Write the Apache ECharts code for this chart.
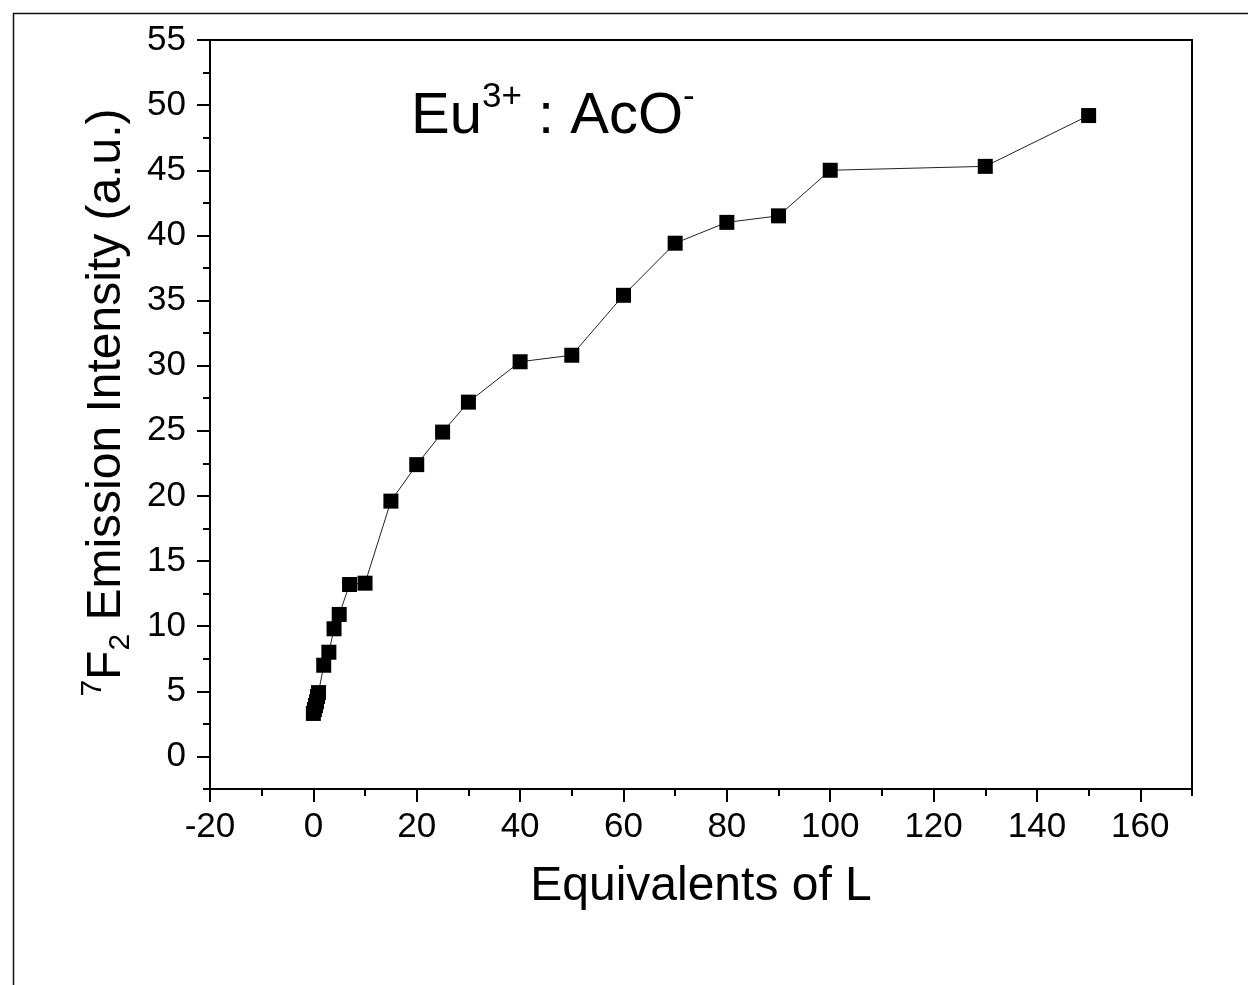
<!DOCTYPE html>
<html>
<head>
<meta charset="utf-8">
<script src="https://cdn.jsdelivr.net/npm/echarts@6/dist/echarts.min.js"></script>
<style>html,body{margin:0;padding:0;background:#fff;}#c{width:1248px;height:985px;}</style>
</head>
<body>
<div id="c"></div>
<script>
// Data
const equivalents = [0, 0.2, 0.4, 0.6, 0.8, 1, 2, 3, 4, 5, 7, 10, 15, 20, 25, 30, 40, 50, 60, 70, 80, 90, 100, 130, 150];
const intensity   = [3.3, 3.6, 3.9, 4.2, 4.6, 4.9, 7.0, 8.0, 9.8, 10.9, 13.2, 13.3, 19.6, 22.4, 24.9, 27.2, 30.3, 30.8, 35.4, 39.4, 41.0, 41.5, 45.0, 45.3, 49.2];
const xMajorTicks = [-20, 0, 20, 40, 60, 80, 100, 120, 140, 160];
const xMinorTicks = [-10, 10, 30, 50, 70, 90, 110, 130, 150, 170];
const yMajorTicks = [0, 5, 10, 15, 20, 25, 30, 35, 40, 45, 50, 55];
const yMinorTicks = [-2.5, 2.5, 7.5, 12.5, 17.5, 22.5, 27.5, 32.5, 37.5, 42.5, 47.5, 52.5];

const FONT = '"Liberation Sans", Arial, sans-serif';
const chart = echarts.init(document.getElementById('c'), null, {renderer: 'canvas'});
const points = equivalents.map((x, i) => [x, intensity[i]]);

const xRange = {min: -20, max: 170};
const yRange = {min: -2.5, max: 55};

chart.setOption({
  animation: false,
  backgroundColor: '#fff',
  grid: {left: 210, right: 56, top: 40, bottom: 196, show: true, borderColor: '#000', borderWidth: 2, backgroundColor: 'transparent'},
  graphic: [
    {type: 'rect', left: 11, top: 11, shape: {x: 0, y: 0, width: 1400, height: 1200}, style: {fill: 'none', stroke: '#111', lineWidth: 1.5}, silent: true, z: -1},
    {type: 'text', left: 411, top: 80, style: {
      text: '{n|Eu}{s|3+}{n| : AcO}{s|-}',
      rich: {
        n: {fontFamily: FONT, fontSize: 58, lineHeight: 66, verticalAlign: 'bottom', fill: '#000'},
        s: {fontFamily: FONT, fontSize: 35, lineHeight: 35, verticalAlign: 'top', fill: '#000'}
      }
    }}
  ],
  xAxis: [
    {type: 'value', min: xRange.min, max: xRange.max, interval: 20, gridIndex: 0,
     axisLine: {show: true, onZero: false, lineStyle: {color: '#000', width: 2}},
     axisTick: {show: true, inside: false, length: 13, customValues: xMajorTicks, lineStyle: {color: '#000', width: 2}},
     axisLabel: {customValues: xMajorTicks, fontFamily: FONT, fontSize: 35, color: '#000', margin: 21},
     splitLine: {show: false},
     name: 'Equivalents of L', nameLocation: 'middle', nameGap: 74,
     nameTextStyle: {fontFamily: FONT, fontSize: 48, color: '#000'}},
    {type: 'value', min: xRange.min, max: xRange.max, interval: 20, gridIndex: 0, position: 'bottom',
     axisLine: {show: false, onZero: false},
     axisTick: {show: true, inside: false, length: 7, customValues: xMinorTicks, lineStyle: {color: '#000', width: 2}},
     axisLabel: {show: false}, splitLine: {show: false}}
  ],
  yAxis: [
    {type: 'value', min: yRange.min, max: yRange.max, gridIndex: 0,
     axisLine: {show: true, onZero: false, lineStyle: {color: '#000', width: 2}},
     axisTick: {show: true, inside: false, length: 13, customValues: yMajorTicks, lineStyle: {color: '#000', width: 2}},
     axisLabel: {customValues: yMajorTicks, fontFamily: FONT, fontSize: 35, color: '#000', margin: 24},
     splitLine: {show: false},
     name: '{p|7}{m|F}{b|2}{m| Emission Intensity (a.u.)}', nameLocation: 'middle', nameGap: 72,
     nameTextStyle: {fontFamily: FONT, fontSize: 48, color: '#000', padding: [0, 0, 0, 24],
       rich: {
         m: {fontFamily: FONT, fontSize: 48, lineHeight: 58, verticalAlign: 'middle', color: '#000'},
         p: {fontFamily: FONT, fontSize: 30, lineHeight: 30, verticalAlign: 'top', color: '#000'},
         b: {fontFamily: FONT, fontSize: 30, lineHeight: 30, verticalAlign: 'bottom', color: '#000'}
       }}},
    {type: 'value', min: yRange.min, max: yRange.max, gridIndex: 0, position: 'left',
     axisLine: {show: false, onZero: false},
     axisTick: {show: true, inside: false, length: 7, customValues: yMinorTicks, lineStyle: {color: '#000', width: 2}},
     axisLabel: {show: false}, splitLine: {show: false}}
  ],
  series: [{
    type: 'line', xAxisIndex: 0, yAxisIndex: 0,
    data: points,
    symbol: 'rect', symbolSize: 15,
    itemStyle: {color: '#000'},
    lineStyle: {color: '#222', width: 1},
    z: 3
  }]
});
</script>
</body>
</html>
